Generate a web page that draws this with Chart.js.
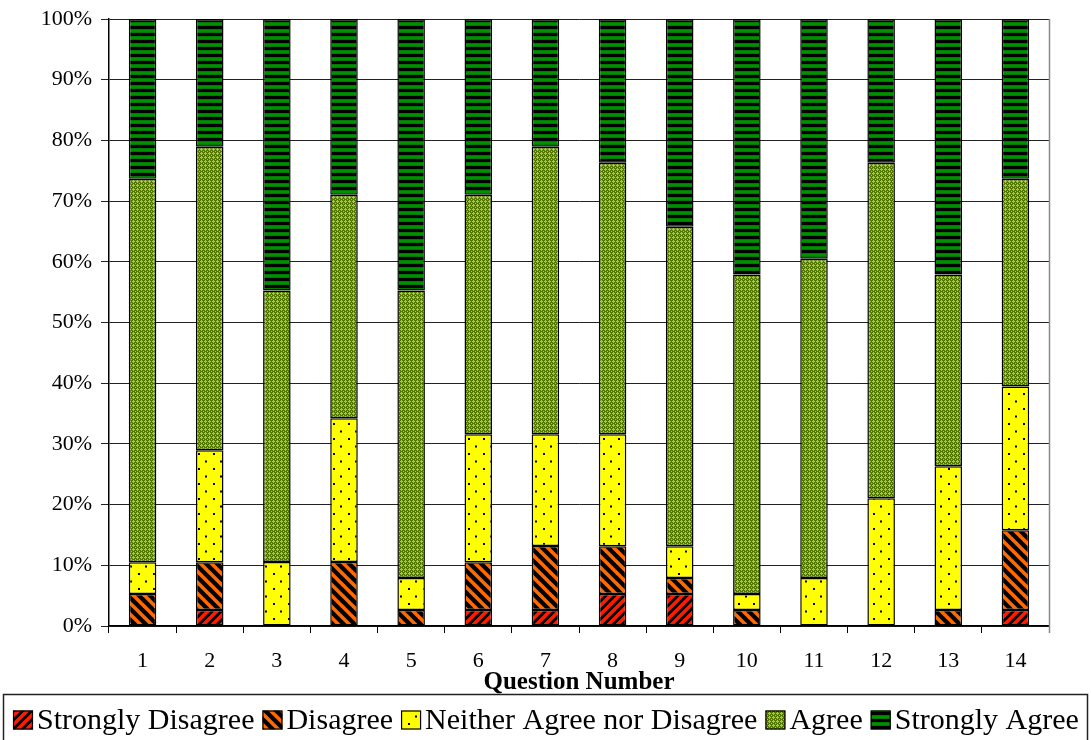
<!DOCTYPE html>
<html>
<head>
<meta charset="utf-8">
<script src="https://cdn.jsdelivr.net/npm/chart.js@4/dist/chart.umd.min.js"></script>
<style>
  html, body { margin: 0; padding: 0; background: #fff; }
  #wrap { width: 1091px; height: 740px; position: relative; }
</style>
</head>
<body>
<div id="wrap"><canvas id="c" width="1091" height="740"></canvas></div>
<script>
// Survey responses per question, as percent of respondents
const questions = ['1','2','3','4','5','6','7','8','9','10','11','12','13','14'];
const seriesNames = ['Strongly Disagree','Disagree','Neither Agree nor Disagree','Agree','Strongly Agree'];
const stronglyDisagree = [0, 2.63, 0, 0, 0, 2.63, 2.63, 5.26, 5.26, 0, 0, 0, 0, 2.63];
const disagree         = [5.26, 7.89, 0, 10.53, 2.63, 7.89, 10.53, 7.89, 2.63, 2.63, 0, 0, 2.63, 13.16];
const neither          = [5.26, 18.42, 10.53, 23.68, 5.26, 21.05, 18.42, 18.42, 5.26, 2.63, 7.89, 21.05, 23.68, 23.68];
const agree            = [63.16, 50.00, 44.74, 36.84, 47.37, 39.47, 47.37, 44.74, 52.63, 52.63, 52.63, 55.26, 31.58, 34.21];
const stronglyAgree    = [26.32, 21.05, 44.74, 28.95, 44.74, 28.95, 21.05, 23.68, 34.21, 42.11, 39.47, 23.68, 42.11, 26.32];
const yTicks = [0,10,20,30,40,50,60,70,80,90,100];

const SERIF = '"Liberation Serif", "Times New Roman", serif';

function tile(w, h, paint) {
  const t = document.createElement('canvas');
  t.width = w; t.height = h;
  const g = t.getContext('2d');
  paint(g, w, h);
  return document.getElementById('c').getContext('2d').createPattern(t, 'repeat');
}

// diagonal stripes; dir = 1 for "/", -1 for "\"
function stripes(bg, fg, size, width, dir) {
  return tile(size, size, (g, w, h) => {
    g.fillStyle = bg; g.fillRect(0, 0, w, h);
    g.strokeStyle = fg; g.lineWidth = width; g.lineCap = 'square';
    const seg = (x0, y0, x1, y1) => { g.beginPath(); g.moveTo(x0, y0); g.lineTo(x1, y1); g.stroke(); };
    if (dir > 0) {
      seg(-w, h, w, -h); seg(0, 2 * h, 2 * w, 0); seg(0, h, w, 0);
    } else {
      seg(0, 0, w, h); seg(-w, 0, w, 2 * h); seg(0, -h, 2 * w, h);
    }
  });
}

const patSD = stripes('#000000', '#ff1a00', 9, 3.6, 1);
const patD = stripes('#000000', '#ff6a00', 11, 3.6, -1);
const patN = tile(15, 15, (g) => {
  g.fillStyle = '#ffff00'; g.fillRect(0, 0, 15, 15);
  g.fillStyle = '#000';
  g.fillRect(3, 3, 2, 2);
  g.fillRect(10, 10.5, 2, 2);
});
// light crosses on a dark olive ground
const patA = tile(4, 4, (g) => {
  g.fillStyle = '#557a00'; g.fillRect(0, 0, 4, 4);
  g.fillStyle = '#a8d800';
  g.fillRect(1, 0, 1, 3);
  g.fillRect(0, 1, 3, 1);
  g.fillRect(3, 3, 1, 1);
});
const patSA = tile(4, 7, (g) => {
  g.fillStyle = '#000000'; g.fillRect(0, 0, 4, 7);
  g.fillStyle = '#007a00'; g.fillRect(0, 1, 4, 4);
  g.fillStyle = '#009000'; g.fillRect(0, 2, 4, 2);
});

const fills = [patSD, patD, patN, patA, patSA];
const values = [stronglyDisagree, disagree, neither, agree, stronglyAgree];

// frame lines and the boxed legend under the axis title
const decorations = {
  id: 'decorations',
  afterDraw(chart) {
    const { ctx, chartArea } = chart;
    ctx.save();
    ctx.strokeStyle = '#8a8a8a';
    ctx.lineWidth = 1.5;
    ctx.beginPath();
    ctx.moveTo(chartArea.right + 0.5, chartArea.top);
    ctx.lineTo(chartArea.right + 0.5, chartArea.bottom + 7);
    ctx.stroke();

    // legend frame
    ctx.strokeStyle = '#222';
    ctx.lineWidth = 1.5;
    ctx.strokeRect(3.5, 694.5, 1084, 60);

    ctx.font = '30px ' + SERIF;
    ctx.textBaseline = 'middle';
    const boxW = 20, boxH = 19, gapBox = 4, gapItem = 8;
    const ds = chart.data.datasets;
    let x = 13;
    const cy = 720;
    ds.forEach((d) => {
      ctx.fillStyle = d.backgroundColor;
      ctx.fillRect(x, cy - boxH / 2, boxW, boxH);
      ctx.strokeStyle = '#000';
      ctx.lineWidth = 1.2;
      ctx.strokeRect(x + 0.5, cy - boxH / 2 + 0.5, boxW - 1, boxH - 1);
      x += boxW + gapBox;
      ctx.fillStyle = '#000';
      ctx.fillText(d.label, x, cy + 1);
      x += ctx.measureText(d.label).width + gapItem;
    });
    ctx.restore();
  }
};

new Chart(document.getElementById('c'), {
  type: 'bar',
  data: {
    labels: questions,
    datasets: seriesNames.map((name, i) => ({
      label: name,
      data: values[i],
      backgroundColor: fills[i],
      borderColor: '#000',
      borderWidth: 1.5,
      borderSkipped: false,
      categoryPercentage: 1,
      barPercentage: 0.41
    }))
  },
  options: {
    responsive: false,
    animation: false,
    layout: { padding: { top: 19, right: 42, bottom: 45, left: 0 } },
    plugins: {
      legend: { display: false },
      tooltip: { enabled: false }
    },
    scales: {
      x: {
        stacked: true,
        offset: true,
        grid: { display: true, drawOnChartArea: false, drawTicks: true, tickLength: 7, color: '#000', offset: true },
        border: { display: true, color: '#000', width: 1.5 },
        ticks: { color: '#000', font: { family: SERIF, size: 22 }, padding: 15, maxRotation: 0 },
        title: {
          display: true,
          text: 'Question Number',
          color: '#000',
          font: { family: SERIF, size: 25, weight: 'bold', lineHeight: 1 },
          padding: { top: 0, bottom: 0 }
        },
        afterFit(scale) {
          scale.height = 69;
          scale.paddingLeft = 0;
          scale.paddingRight = 0;
        }
      },
      y: {
        stacked: true,
        min: 0,
        max: 100,
        afterBuildTicks(scale) { scale.ticks = yTicks.map(v => ({ value: v })); },
        grid: { color: '#222', lineWidth: 1, tickLength: 8, drawTicks: true },
        border: { display: true, color: '#000', width: 1.5 },
        ticks: {
          color: '#000',
          font: { family: SERIF, size: 22 },
          padding: 9,
          callback: (v) => v + '%'
        },
        afterFit(scale) {
          scale.width = 109;
          scale.paddingTop = 0;
          scale.paddingBottom = 0;
        }
      }
    }
  },
  plugins: [decorations]
});
</script>
</body>
</html>
